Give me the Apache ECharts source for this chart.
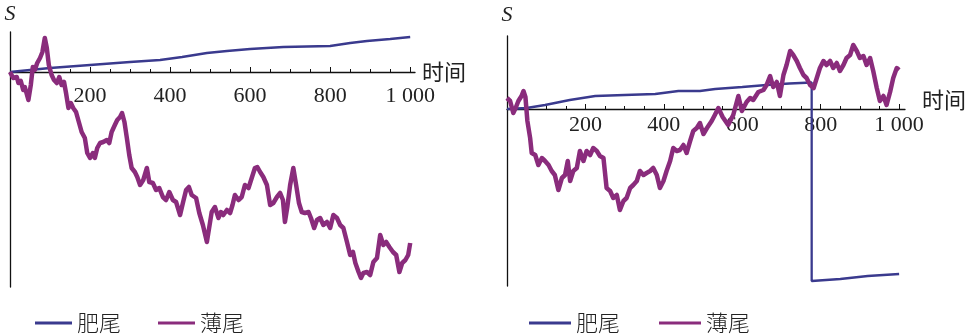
<!DOCTYPE html>
<html>
<head>
<meta charset="utf-8">
<script src="https://cdn.jsdelivr.net/npm/echarts@6/dist/echarts.min.js"></script>
<style>html,body{margin:0;padding:0;background:#fff;}#c{width:967px;height:336px;}</style>
</head>
<body>
<div id="c"></div>
<script>
// ---- data (time, S) ----
const seriesNames = ['肥尾', '薄尾'];
const xTickLabels = [200, 400, 600, 800, 1000];
const majorTicks = [0, 200, 400, 600, 800, 1000];
const minorTicks = [50, 100, 150, 250, 300, 350, 450, 500, 550, 650, 700, 750, 850, 900, 950];

const leftFatTail = [[0,0],[50,2],[100,4],[200,7],[300,10],[375,12],[430,15],[492,19],[542,21],[600,23],[683,25],[800,26],[850,29],[892,31],[950,33],[1000,35]];
const leftThinTail = [[0,0],[8,-6],[17,-5],[21,-11],[27,-9],[33,-18],[37,-15],[46,-28],[52,-13],[57,5],[62,2],[68,9],[75,14],[81,20],[87,34],[92,24],[97,7],[104,-3],[110,-8],[117,-11],[123,-5],[129,-13],[135,-10],[140,-21],[146,-36],[152,-31],[158,-36],[165,-40],[172,-50],[179,-60],[187,-66],[193,-81],[200,-86],[207,-81],[212,-86],[218,-76],[225,-71],[233,-70],[242,-68],[248,-71],[254,-60],[262,-53],[268,-48],[275,-45],[280,-41],[286,-50],[292,-66],[298,-83],[304,-96],[312,-100],[318,-105],[325,-113],[333,-108],[342,-96],[348,-110],[357,-111],[365,-118],[373,-116],[382,-125],[390,-128],[398,-120],[407,-128],[415,-130],[425,-143],[432,-131],[440,-118],[447,-115],[454,-123],[465,-126],[473,-141],[482,-153],[492,-170],[504,-140],[512,-135],[521,-146],[527,-140],[533,-143],[542,-138],[550,-141],[556,-133],[562,-123],[571,-128],[579,-125],[587,-113],[596,-116],[604,-106],[612,-96],[618,-95],[625,-100],[633,-105],[642,-113],[650,-133],[658,-131],[667,-125],[675,-121],[682,-128],[687,-150],[693,-135],[700,-113],[708,-96],[715,-113],[722,-131],[729,-140],[737,-141],[746,-140],[752,-146],[760,-156],[767,-148],[775,-146],[783,-153],[792,-150],[800,-156],[808,-143],[817,-146],[825,-153],[833,-156],[842,-170],[850,-183],[857,-180],[863,-191],[871,-200],[877,-206],[883,-201],[892,-200],[900,-203],[908,-190],[917,-186],[925,-163],[933,-173],[940,-170],[948,-175],[957,-180],[965,-183],[973,-200],[980,-191],[988,-188],[995,-183],[1000,-171]];

const rightFatTail = [[0,0],[50,1],[97,4],[160,9],[225,13],[300,14],[378,15],[437,18],[492,18],[531,20],[600,22],[662,24],[720,25.5],[777,26.5],[777,-172],[850,-170],[920,-167],[1000,-165]];
const rightThinTail = [[0,11],[8,8],[16,-4],[22,1],[29,8],[37,13],[42,18],[47,12],[52,-12],[59,-29],[63,-44],[72,-46],[80,-56],[89,-49],[97,-52],[106,-56],[114,-62],[122,-66],[131,-81],[140,-69],[148,-66],[155,-52],[161,-72],[169,-62],[178,-59],[186,-42],[195,-52],[203,-42],[212,-46],[220,-39],[229,-42],[237,-47],[246,-49],[254,-79],[263,-82],[271,-89],[280,-86],[288,-101],[297,-92],[305,-89],[314,-79],[322,-76],[331,-72],[339,-62],[348,-66],[356,-64],[365,-62],[373,-59],[382,-66],[390,-79],[399,-72],[407,-62],[416,-52],[424,-39],[433,-42],[441,-41],[450,-36],[458,-44],[467,-32],[475,-22],[484,-19],[492,-14],[501,-25],[510,-19],[522,-12],[530,-6],[539,1],[550,-8],[564,-16],[577,-6],[590,13],[599,-2],[611,7],[620,11],[628,9],[641,17],[654,19],[662,24],[671,33],[679,22],[688,27],[696,13],[705,34],[713,44],[722,58],[730,54],[739,48],[747,41],[756,34],[764,31],[773,24],[782,21],[790,31],[798,41],[807,48],[815,44],[824,48],[832,41],[841,46],[849,38],[858,44],[866,51],[875,54],[883,64],[892,58],[900,51],[909,53],[917,44],[926,51],[934,38],[943,21],[951,8],[960,13],[968,4],[977,17],[985,31],[994,41],[1000,39]];

// ---- layout & styling ----
const BLUE = '#3a3a8e';
const PURPLE = '#8a2c7c';
const AXIS = '#111';
const SERIF = 'Liberation Serif';
const CJK = 'Noto Sans CJK SC';

const panels = [
  { left: 10, top: 32, width: 405, height: 255, xMax: 1012, yMin: -215, yMax: 40, labelMargin: 13, nameGap: 7, nameVA: 'middle', nameLH: 22, sGap: 7 },
  { left: 507, top: 36, width: 398, height: 250, xMax: 1015, yMin: -177, yMax: 73, labelMargin: 5, nameGap: 17, nameVA: 'bottom', nameLH: 18, sGap: 10 }
];

function fmt(v) { return String(v).replace(/\B(?=(\d{3})+(?!\d))/g, ' '); }

const grids = [], xAxes = [], yAxes = [], series = [];
const dataSets = [[leftFatTail, leftThinTail], [rightFatTail, rightThinTail]];

panels.forEach(function (p, i) {
  // zero line position inside the data grid (layout only)
  const zeroY = p.top + p.height * p.yMax / (p.yMax - p.yMin);
  const dataGrid = grids.length;
  grids.push({ left: p.left, top: p.top, width: p.width, height: p.height, containLabel: false, outerBoundsMode: 'none' });
  const axisGrid = grids.length;
  grids.push({ left: p.left, top: zeroY - 20, width: p.width, height: 20, containLabel: false, outerBoundsMode: 'none' });

  const dataX = xAxes.length;
  xAxes.push({ type: 'value', gridIndex: dataGrid, min: 0, max: p.xMax, show: false });
  xAxes.push({
    type: 'value', gridIndex: axisGrid, position: 'bottom', min: 0, max: p.xMax, interval: 200,
    axisLine: { show: true, onZero: false, lineStyle: { color: AXIS, width: 1.3 } },
    axisTick: { show: true, inside: true, length: 5, customValues: majorTicks, lineStyle: { color: AXIS, width: 1 } },
    axisLabel: { show: true, customValues: xTickLabels, formatter: fmt, fontFamily: SERIF, fontSize: 22, color: '#222', margin: p.labelMargin },
    splitLine: { show: false }, minorTick: { show: false },
    name: '时间', nameLocation: 'end', nameGap: p.nameGap,
    nameTextStyle: { fontFamily: CJK, fontSize: 22, color: '#222', verticalAlign: p.nameVA, lineHeight: p.nameLH }
  });
  xAxes.push({
    type: 'value', gridIndex: axisGrid, position: 'bottom', min: 0, max: p.xMax, interval: 200,
    axisLine: { show: false, onZero: false },
    axisTick: { show: true, inside: true, length: 3, customValues: minorTicks, lineStyle: { color: AXIS, width: 1 } },
    axisLabel: { show: false }, splitLine: { show: false }
  });

  const dataY = yAxes.length;
  yAxes.push({
    type: 'value', gridIndex: dataGrid, min: p.yMin, max: p.yMax,
    axisLine: { show: true, onZero: false, lineStyle: { color: AXIS, width: 1.3 } },
    axisTick: { show: false }, axisLabel: { show: false }, splitLine: { show: false },
    name: 'S', nameLocation: 'end', nameGap: p.sGap,
    nameTextStyle: { fontFamily: SERIF, fontStyle: 'italic', fontSize: 22, color: '#222' }
  });
  yAxes.push({ type: 'value', gridIndex: axisGrid, min: 0, max: 1, show: false });

  series.push({ name: seriesNames[0], type: 'line', xAxisIndex: dataX, yAxisIndex: dataY, data: dataSets[i][0],
    showSymbol: false, symbol: 'none', lineStyle: { color: BLUE, width: 2.3 }, itemStyle: { color: BLUE }, z: 3 });
  series.push({ name: seriesNames[1], type: 'line', xAxisIndex: dataX, yAxisIndex: dataY, data: dataSets[i][1],
    showSymbol: false, symbol: 'none', lineStyle: { color: PURPLE, width: 4.5, join: 'round' }, itemStyle: { color: PURPLE }, z: 4 });
});

const legendCommon = {
  orient: 'horizontal', icon: 'rect', itemHeight: 3, padding: 0, data: seriesNames,
  textStyle: { fontFamily: CJK, fontSize: 22, fontWeight: 300, color: '#222' }
};

const option = {
  animation: false,
  backgroundColor: '#fff',
  grid: grids,
  xAxis: xAxes,
  yAxis: yAxes,
  legend: [
    Object.assign({}, legendCommon, { left: 35, top: 312, itemWidth: 37, itemGap: 37 }),
    Object.assign({}, legendCommon, { left: 529, top: 312, itemWidth: 42, itemGap: 39 })
  ],
  series: series
};

const chart = echarts.init(document.getElementById('c'), null, { renderer: 'canvas' });
chart.setOption(option);
</script>
</body>
</html>
